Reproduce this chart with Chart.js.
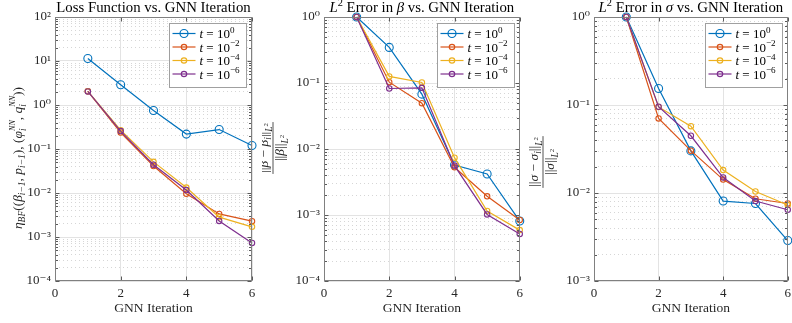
<!DOCTYPE html>
<html><head><meta charset="utf-8">
<script src="https://cdn.jsdelivr.net/npm/chart.js@4.4.0/dist/chart.umd.min.js"></script>
<style>
html,body{margin:0;padding:0;background:#fff;overflow:hidden;width:792px;height:323px;}
.p{position:absolute;top:0;height:323px;overflow:visible;}
canvas{display:block;}
</style></head><body>
<div class="p" style="left:0;width:262px"><canvas id="c1" width="262" height="323"></canvas></div>
<div class="p" style="left:262px;width:266px"><canvas id="c2" width="266" height="323"></canvas></div>
<div class="p" style="left:528px;width:268px"><canvas id="c3" width="268" height="323"></canvas></div>
<script>
// ---------------- data ----------------
const iterations = [1, 2, 3, 4, 5, 6];
const seriesExponents = ['0', '−2', '−4', '−6'];           // t = 10^exp
const seriesColors = ['#0072BD', '#D95319', '#EDB120', '#7E2F8E'];

const lossT0 = [11.4, 2.88, 0.75, 0.218, 0.277, 0.12];
const lossT2 = [2.05, 0.237, 0.041, 0.0096, 0.00334, 0.00229];
const lossT4 = [2.05, 0.268, 0.051, 0.0133, 0.00282, 0.0017];
const lossT6 = [2.03, 0.255, 0.044, 0.0117, 0.00232, 0.00073];

const betaT0 = [1, 0.346, 0.0678, 0.00573, 0.00419, 0.00081];
const betaT2 = [1, 0.103, 0.0495, 0.00528, 0.00192, 0.00084];
const betaT4 = [1, 0.126, 0.102, 0.0074, 0.00115, 0.00059];
const betaT6 = [1, 0.0826, 0.0845, 0.0056, 0.00102, 0.000515];

const sigmaT0 = [1, 0.154, 0.0301, 0.0081, 0.0076, 0.00288];
const sigmaT2 = [1, 0.0703, 0.0303, 0.0142, 0.0086, 0.0076];
const sigmaT4 = [1, 0.095, 0.0575, 0.0182, 0.0104, 0.0073];
const sigmaT6 = [1, 0.0955, 0.0447, 0.015, 0.0081, 0.00645];

const xTicks = [0, 2, 4, 6];
const lossDecades = [-4, -3, -2, -1, 0, 1, 2];
const betaDecades = [-4, -3, -2, -1, 0];
const sigmaDecades = [-3, -2, -1, 0];

// ---------------- helpers ----------------
const FONT = '"Liberation Serif", "DejaVu Serif", serif';
const SUP = {'0':'⁰','1':'¹','2':'²','3':'³','4':'⁴','5':'⁵','6':'⁶','-':'⁻','−':'⁻'};
const supStr = s => String(s).split('').map(c => SUP[c] || c).join('');
const isMajor = v => Math.abs(Math.log10(v) - Math.round(Math.log10(v))) < 1e-9;

function segFont(seg, size) {
  const fs = size * (seg.s || 1);
  return (seg.i ? 'italic ' : '') + fs + 'px ' + FONT;
}
function segWidth(ctx, seg, size) {
  if (seg.stack) return Math.max(...seg.stack.map(s => segWidth(ctx, s, size)));
  ctx.font = segFont(seg, size);
  return ctx.measureText(seg.t).width;
}
function richWidth(ctx, segs, size) {
  return segs.reduce((a, s) => a + segWidth(ctx, s, size), 0);
}
function drawRich(ctx, segs, x, y, size, align, color) {
  const w = richWidth(ctx, segs, size);
  let cx = align === 'center' ? x - w / 2 : (align === 'right' ? x - w : x);
  ctx.fillStyle = color || '#000';
  ctx.textBaseline = 'alphabetic';
  ctx.textAlign = 'left';
  for (const seg of segs) {
    const parts = seg.stack || [seg];
    for (const p of parts) {
      ctx.font = segFont(p, size);
      ctx.fillText(p.t, cx, y + (p.d || 0) * size);
    }
    cx += segWidth(ctx, seg, size);
  }
  return w;
}

const titles = [
  [{t: 'Loss Function vs. GNN Iteration'}],
  [{t: 'L', i: 1}, {t: '2', s: .7, d: -.42}, {t: ' Error in '}, {t: 'β', i: 1}, {t: ' vs. GNN Iteration'}],
  [{t: 'L', i: 1}, {t: '2', s: .7, d: -.42}, {t: ' Error in '}, {t: 'σ', i: 1}, {t: ' vs. GNN Iteration'}]
];
const sub = (t, it) => ({t, i: it, s: .7, d: .25});
const stackIN = {stack: [{t: 'i', i: 1, s: .7, d: .3}, {t: 'NN', i: 1, s: .6, d: -.5}]};
const lossLabel = [
  {t: 'η', i: 1}, sub('BF', 1), {t: '(('}, {t: 'β', i: 1}, sub('i−1', 1), {t: ', '},
  {t: 'p', i: 1}, sub('i−1', 1), {t: '), ('}, {t: 'φ', i: 1}, stackIN, {t: ', '},
  {t: 'q', i: 1}, stackIN, {t: '))'}
];
function normNum(g) {
  return [{t: '||'}, {t: g, i: 1}, {t: ' − '}, {t: g, i: 1}, sub('i', 1), {t: '||'},
          {t: 'L', i: 1, s: .7, d: .3}, {t: '2', s: .5, d: -.02}];
}
function normDen(g) {
  return [{t: '||'}, {t: g, i: 1}, {t: '||'}, {t: 'L', i: 1, s: .7, d: .3}, {t: '2', s: .5, d: -.02}];
}

function makeDecor(idx, ylabel) {
  return {
    id: 'decor' + idx,
    afterDraw(chart) {
      const ctx = chart.ctx;
      const a = chart.chartArea;
      const xs = chart.scales.x, ys = chart.scales.y;
      const L = Math.round(a.left) + 0.5, R = Math.round(a.right) - 0.5;
      const T = Math.round(a.top) + 0.5, B = Math.round(a.bottom) - 0.5;
      ctx.save();
      // inward ticks
      ctx.strokeStyle = '#5a5a5a';
      ctx.lineWidth = 1;
      ctx.beginPath();
      for (const tk of ys.ticks) {
        const py = Math.round(ys.getPixelForValue(tk.value)) + 0.5;
        const len = isMajor(tk.value) ? 4 : 2.5;
        ctx.moveTo(L, py); ctx.lineTo(L + len, py);
        ctx.moveTo(R, py); ctx.lineTo(R - len, py);
      }
      for (const tk of xs.ticks) {
        const px = Math.round(xs.getPixelForValue(tk.value)) + 0.5;
        ctx.moveTo(px, B); ctx.lineTo(px, B - 4);
        ctx.moveTo(px, T); ctx.lineTo(px, T + 4);
      }
      ctx.stroke();
      // box
      ctx.strokeStyle = '#808080';
      ctx.strokeRect(L, T, R - L, B - T);
      // title
      drawRich(ctx, titles[idx], (a.left + a.right) / 2, 12, 14.8, 'center', '#000');
      // y label
      ylabel(ctx);
      // legend
      const bw = 77, bh = 64;
      const bx = Math.round(a.right) - 6 - bw + 0.5, by = Math.round(a.top) + 6 + 0.5;
      ctx.fillStyle = '#fff';
      ctx.fillRect(bx, by, bw, bh);
      ctx.strokeStyle = '#a0a0a0';
      ctx.strokeRect(bx, by, bw, bh);
      chart.data.datasets.forEach((ds, i) => {
        const ry = by + 10 + i * 13.5;
        ctx.strokeStyle = ds.borderColor;
        ctx.lineWidth = 1.2;
        ctx.beginPath(); ctx.moveTo(bx + 3, ry); ctx.lineTo(bx + 26, ry); ctx.stroke();
        ctx.beginPath(); ctx.arc(bx + 14.5, ry, ds.pointRadius, 0, Math.PI * 2); ctx.stroke();
        drawRich(ctx, [{t: 't', i: 1}, {t: ' = 10'}, {t: seriesExponents[i], s: .7, d: -.42}],
                 bx + 30, ry + 4.5, 13, 'left', '#000');
      });
      ctx.restore();
    }
  };
}

function fractionLabel(cx, cy, g) {
  return ctx => {
    ctx.save();
    ctx.translate(cx, cy);
    ctx.rotate(-Math.PI / 2);
    const wn = drawRich(ctx, normNum(g), 0, -5, 13.5, 'center', '#262626');
    const wd = drawRich(ctx, normDen(g), 0, 11, 13.5, 'center', '#262626');
    const w = Math.max(wn, wd) + 2;
    ctx.strokeStyle = '#262626';
    ctx.lineWidth = 0.8;
    ctx.beginPath(); ctx.moveTo(-w / 2, 0); ctx.lineTo(w / 2, 0); ctx.stroke();
    ctx.restore();
  };
}
function lossYLabel(ctx) {
  ctx.save();
  ctx.translate(22, 158);
  ctx.rotate(-Math.PI / 2);
  drawRich(ctx, lossLabel, 0, 0, 13.5, 'center', '#262626');
  ctx.restore();
}

function buildChart(idx, canvasId, seriesArrays, decades, yWidth, padRight, ylabel) {
  const datasets = seriesArrays.map((arr, i) => ({
    label: 't = 10' + supStr(seriesExponents[i]),
    data: iterations.map((x, k) => ({x, y: arr[k]})),
    borderColor: seriesColors[i],
    backgroundColor: 'rgba(0,0,0,0)',
    pointBorderColor: seriesColors[i],
    pointBackgroundColor: 'rgba(0,0,0,0)',
    borderWidth: 1.2,
    pointRadius: i === 0 ? 4 : 2.7,
    pointBorderWidth: 1.1,
    pointHoverRadius: i === 0 ? 4 : 2.7,
    order: 3 - i,
    clip: false,
    tension: 0
  }));
  const dMin = Math.min(...decades), dMax = Math.max(...decades);
  return new Chart(document.getElementById(canvasId), {
    type: 'line',
    data: {datasets},
    options: {
      responsive: false,
      animation: false,
      devicePixelRatio: 1,
      layout: {padding: {top: 17, right: padRight, left: 0, bottom: 0}},
      plugins: {legend: {display: false}, tooltip: {enabled: false}, title: {display: false}},
      events: [],
      scales: {
        x: {
          type: 'linear', min: 0, max: 6,
          afterBuildTicks: s => { s.ticks = xTicks.map(v => ({value: v})); },
          afterFit: s => { s.height = 42; },
          grid: {color: '#e3e3e3', drawTicks: false, lineWidth: 1},
          border: {display: false},
          ticks: {padding: 5, autoSkip: false, maxRotation: 0, color: '#262626',
                  font: {family: FONT, size: 13}},
          title: {display: true, text: 'GNN Iteration', color: '#262626',
                  font: {family: FONT, size: 13.5}, padding: {top: 0, bottom: 6}}
        },
        y: {
          type: 'logarithmic', min: Math.pow(10, dMin), max: Math.pow(10, dMax),
          afterBuildTicks: s => {
            const t = [];
            for (let d = dMin; d <= dMax; d++) {
              for (let k = 1; k <= 9; k++) {
                if (d === dMax && k > 1) break;
                t.push({value: k * Math.pow(10, d)});
              }
            }
            s.ticks = t;
          },
          afterFit: s => { s.width = yWidth; },
          grid: {drawTicks: false, lineWidth: 1,
                 color: c => (c.tick && isMajor(c.tick.value)) ? '#e3e3e3' : '#d6d6d6'},
          border: {display: false,
                   dash: c => (c.type === 'tick' && c.tick && !isMajor(c.tick.value)) ? [1, 3] : []},
          ticks: {autoSkip: false, padding: 4, color: '#262626', font: {family: FONT, size: 13},
                  callback: v => isMajor(v) ? '10' + supStr(Math.round(Math.log10(v))) : ''}
        }
      }
    },
    plugins: [makeDecor(idx, ylabel)]
  });
}

buildChart(0, 'c1', [lossT0, lossT2, lossT4, lossT6], lossDecades, 55, 10, lossYLabel);
buildChart(1, 'c2', [betaT0, betaT2, betaT4, betaT6], betaDecades, 62, 7, fractionLabel(273 - 262, 148, 'β'));
buildChart(2, 'c3', [sigmaT0, sigmaT2, sigmaT4, sigmaT6], sigmaDecades, 66, 5, fractionLabel(543 - 528, 162, 'σ'));
</script>
</body></html>
